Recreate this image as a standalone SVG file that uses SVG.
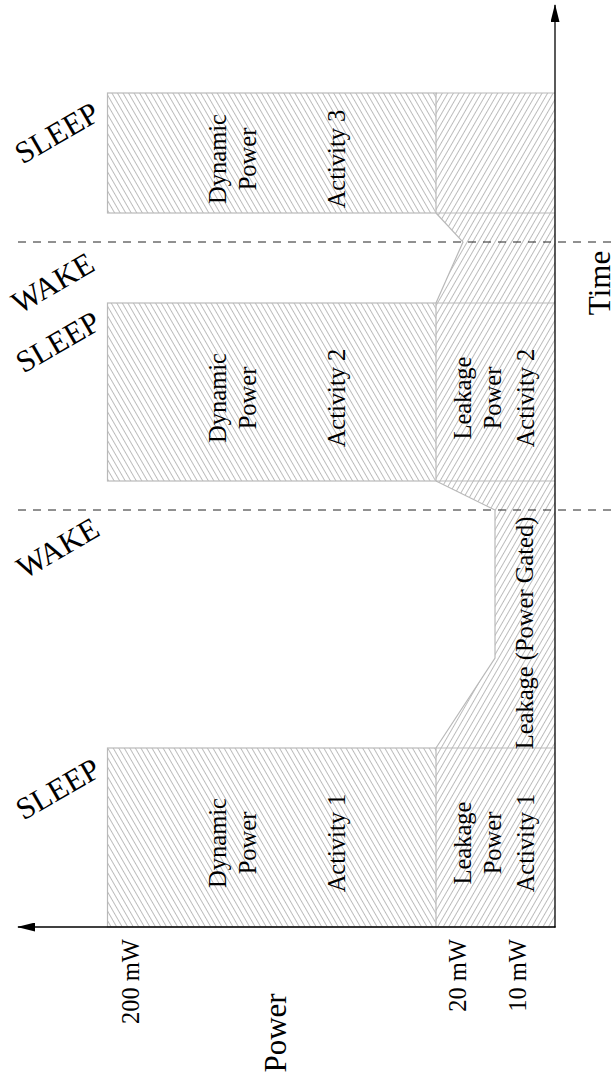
<svg xmlns="http://www.w3.org/2000/svg" width="615" height="1077" viewBox="0 0 615 1077">
  <style>
    .lbl { font-family: "Liberation Serif", "Times New Roman", serif; font-size: 24.5px; fill: #000; }
    .big { font-family: "Liberation Serif", "Times New Roman", serif; font-size: 31px; fill: #000; }
    .state { font-family: "Liberation Serif", "Times New Roman", serif; font-size: 31px; fill: #000; text-anchor: middle; }
    .mid { text-anchor: middle; }
    .end { text-anchor: end; }
    .edge { fill: none; stroke: #b9b9b9; stroke-width: 1.2; }
    .dyn { fill: url(#hatchDyn); }
    .leak { fill: url(#hatchLeak); }
    .axis { fill: none; stroke: #000; stroke-width: 1.3; }
    .phase { fill: none; stroke: #222; stroke-width: 1; stroke-dasharray: 8 7; }
  </style>
  <defs>
    <!-- dynamic power: lines leaning "\" -->
    <pattern id="hatchDyn" patternUnits="userSpaceOnUse" width="4.8" height="10" patternTransform="rotate(-30)">
      <line x1="2.4" y1="-1" x2="2.4" y2="11" stroke="#8f8f8f" stroke-width="0.6"/>
    </pattern>
    <!-- leakage power: lines leaning "/" -->
    <pattern id="hatchLeak" patternUnits="userSpaceOnUse" width="4.8" height="10" patternTransform="rotate(30)">
      <line x1="2.4" y1="-1" x2="2.4" y2="11" stroke="#8f8f8f" stroke-width="0.6"/>
    </pattern>
    <marker id="arrow" viewBox="0 0 18 9" refX="17" refY="4.5" markerWidth="18" markerHeight="9" markerUnits="userSpaceOnUse" orient="auto">
      <path d="M0,0 L18,4.5 L0,9 Z" fill="#000"/>
    </marker>
  </defs>

  <!-- leakage band (whole time span, including wake transitions) -->
  <g id="leakage">
    <path class="leak" d="M436,93 L555,93 L555,927 L436,927 L436,748 L495,658 L495,510 L436,481 L436,303 L463,242 L436,213 Z"/>
    <path class="edge" d="M436,93 L555,93 M436,213 L555,213 M436,303 L555,303 M436,481 L555,481 M436,748 L555,748 M436,927 L555,927"/>
    <path class="edge" d="M436,213 L463,242 L436,303 M436,481 L495,510 L495,658 L436,748"/>
  </g>

  <!-- dynamic power blocks -->
  <g id="activity3">
    <rect class="dyn" x="107.5" y="93" width="328.5" height="120"/>
    <rect class="edge" x="107.5" y="93" width="328.5" height="120"/>
  </g>
  <g id="activity2">
    <rect class="dyn" x="107.5" y="303" width="328.5" height="178"/>
    <rect class="edge" x="107.5" y="303" width="328.5" height="178"/>
  </g>
  <g id="activity1">
    <rect class="dyn" x="107.5" y="748" width="328.5" height="179"/>
    <rect class="edge" x="107.5" y="748" width="328.5" height="179"/>
  </g>

  <!-- region labels -->
  <g id="labels3">
    <text class="lbl mid" transform="translate(226,159) rotate(-90)">Dynamic</text>
    <text class="lbl mid" transform="translate(256,159) rotate(-90)">Power</text>
    <text class="lbl mid" transform="translate(345,159) rotate(-90)">Activity 3</text>
  </g>
  <g id="labels2">
    <text class="lbl mid" transform="translate(226,398) rotate(-90)">Dynamic</text>
    <text class="lbl mid" transform="translate(256,398) rotate(-90)">Power</text>
    <text class="lbl mid" transform="translate(345,398) rotate(-90)">Activity 2</text>
    <text class="lbl mid" transform="translate(471,398) rotate(-90)">Leakage</text>
    <text class="lbl mid" transform="translate(501,398) rotate(-90)">Power</text>
    <text class="lbl mid" transform="translate(534,398) rotate(-90)">Activity 2</text>
  </g>
  <g id="labelsGated">
    <text class="lbl mid" transform="translate(533,633) rotate(-90)">Leakage (Power Gated)</text>
  </g>
  <g id="labels1">
    <text class="lbl mid" transform="translate(226,843) rotate(-90)">Dynamic</text>
    <text class="lbl mid" transform="translate(256,843) rotate(-90)">Power</text>
    <text class="lbl mid" transform="translate(345,843) rotate(-90)">Activity 1</text>
    <text class="lbl mid" transform="translate(471,843) rotate(-90)">Leakage</text>
    <text class="lbl mid" transform="translate(501,843) rotate(-90)">Power</text>
    <text class="lbl mid" transform="translate(534,843) rotate(-90)">Activity 1</text>
  </g>

  <!-- axes and phase boundaries -->
  <g id="connectors">
    <line class="phase" x1="18" y1="242" x2="615" y2="242"/>
    <line class="phase" x1="18" y1="510" x2="615" y2="510"/>
    <line class="axis" x1="555" y1="927.5" x2="555" y2="5" marker-end="url(#arrow)"/>
    <line class="axis" x1="555.6" y1="927" x2="18" y2="927" marker-end="url(#arrow)"/>
  </g>

  <!-- sleep / wake state labels -->
  <g id="states">
    <text class="state" transform="translate(62,142) rotate(-30)">SLEEP</text>
    <text class="state" transform="translate(58,292) rotate(-30)">WAKE</text>
    <text class="state" transform="translate(63,351) rotate(-30)">SLEEP</text>
    <text class="state" transform="translate(63,557) rotate(-30)">WAKE</text>
    <text class="state" transform="translate(63,798) rotate(-30)">SLEEP</text>
  </g>

  <!-- axis titles and ticks -->
  <g id="axisLabels">
    <text class="lbl end" transform="translate(139,939) rotate(-90)">200 mW</text>
    <text class="lbl end" transform="translate(466,939) rotate(-90)">20 mW</text>
    <text class="lbl end" transform="translate(526,939) rotate(-90)">10 mW</text>
    <text class="big mid" transform="translate(286,1033) rotate(-90)">Power</text>
    <text class="big mid" transform="translate(610,283) rotate(-90)">Time</text>
  </g>
</svg>
